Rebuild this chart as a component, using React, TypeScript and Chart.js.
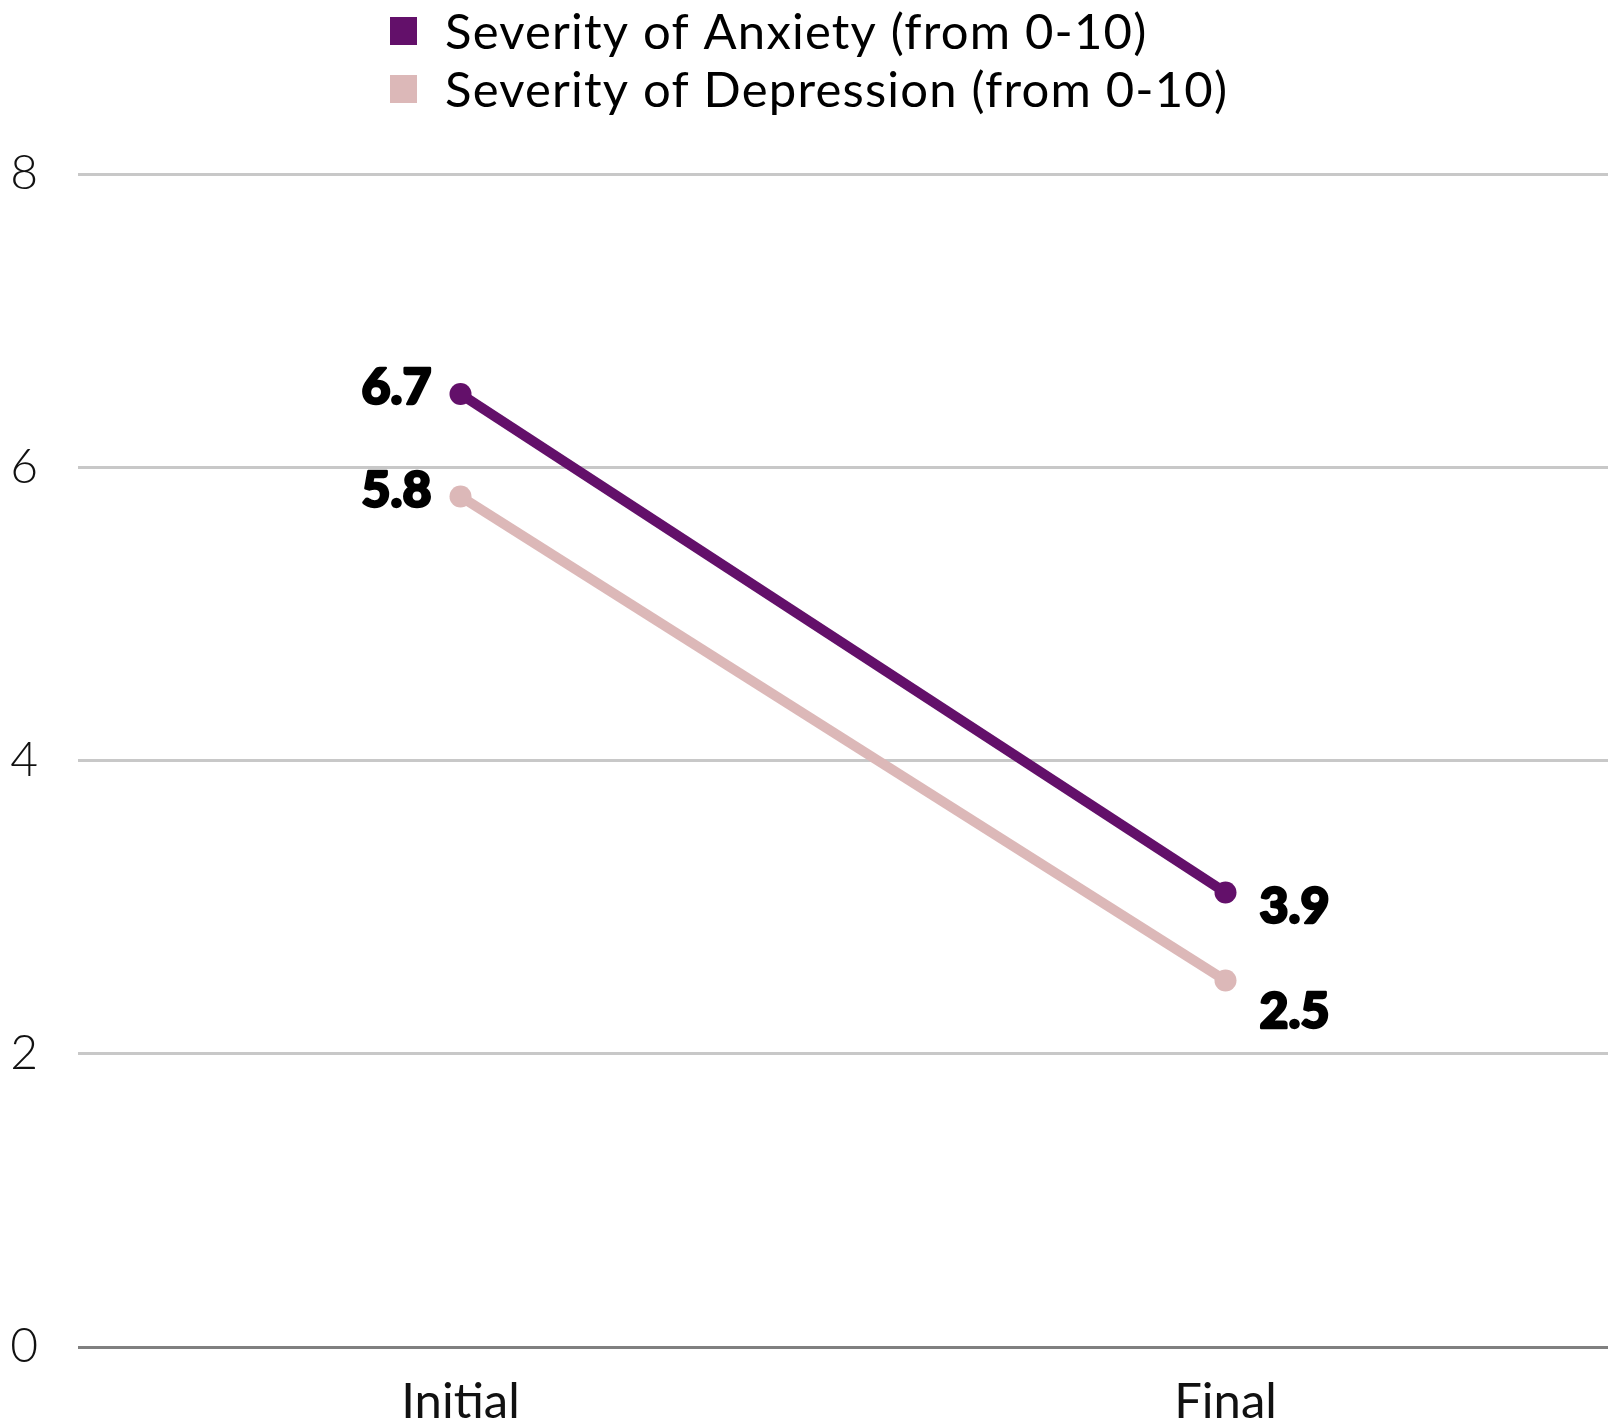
import React, { useEffect, useRef } from "react";
import { Chart, registerables } from "chart.js";

Chart.register(...registerables);

const categories = ["Initial", "Final"];
const anxietyValues = [6.5, 3.1];
const depressionValues = [5.8, 2.5];
const anxietyLabels = ["6.7", "3.9"];
const depressionLabels = ["5.8", "2.5"];
const seriesNames = ["Severity of Anxiety (from 0-10)", "Severity of Depression (from 0-10)"];
const yTicks = [0, 2, 4, 6, 8];

const ANX = "#63106a";
const DEP = "#dcb8b8";
const FONT = "Lato, 'Open Sans', sans-serif";

const legendPlugin = {
  id: "stackedLegend",
  afterDraw(chart: any) {
    const ctx = chart.ctx;
    ctx.save();
    const x0 = 390;
    const rows = [31, 89];
    chart.data.datasets.forEach((ds: any, i: number) => {
      const cy = rows[i];
      ctx.fillStyle = ds.borderColor;
      ctx.fillRect(x0, cy - 14, 27, 28);
      ctx.fillStyle = "#000";
      ctx.font = `400 49px ${FONT}`;
      (ctx as any).letterSpacing = "1.2px";
      ctx.textAlign = "left";
      ctx.textBaseline = "alphabetic";
      ctx.fillText(ds.label, 445, cy + 18);
    });
    ctx.restore();
  },
};

const valueLabelPlugin = {
  id: "valueLabels",
  afterDatasetsDraw(chart: any) {
    const ctx = chart.ctx;
    ctx.save();
    ctx.font = `900 50px ${FONT}`;
    ctx.fillStyle = "#000";
    ctx.strokeStyle = "#000";
    ctx.lineWidth = 2.5;
    ctx.lineJoin = "round";
    ctx.textBaseline = "alphabetic";
    chart.data.datasets.forEach((ds: any, di: number) => {
      const meta = chart.getDatasetMeta(di);
      meta.data.forEach((pt: any, i: number) => {
        const text = ds.valueLabels[i];
        let x: number, y: number;
        if (i === 0) {
          ctx.textAlign = "right";
          x = pt.x - 29;
          y = pt.y + 10;
        } else {
          ctx.textAlign = "left";
          x = pt.x + 34;
          y = pt.y + (di === 0 ? 31 : 48);
        }
        ctx.fillText(text, x, y);
        ctx.strokeText(text, x, y);
      });
    });
    ctx.restore();
  },
};

export default function App() {
  const ref = useRef<HTMLCanvasElement>(null);
  useEffect(() => {
    if (!ref.current) return;
    document.documentElement.style.overflow = "hidden";
    document.body.style.margin = "0";
    const chart = new Chart(ref.current, {
      type: "line",
      data: {
        labels: categories,
        datasets: [
          {
            label: seriesNames[0],
            data: anxietyValues,
            valueLabels: anxietyLabels,
            borderColor: ANX,
            backgroundColor: ANX,
            pointBackgroundColor: ANX,
            borderWidth: 10,
            pointRadius: 11,
            pointBorderWidth: 0,
            tension: 0,
          } as any,
          {
            label: seriesNames[1],
            data: depressionValues,
            valueLabels: depressionLabels,
            borderColor: DEP,
            backgroundColor: DEP,
            pointBackgroundColor: DEP,
            borderWidth: 10,
            pointRadius: 11,
            pointBorderWidth: 0,
            tension: 0,
          } as any,
        ],
      },
      options: {
        animation: false,
        responsive: true,
        maintainAspectRatio: false,
        layout: { autoPadding: false, padding: { top: 174, left: 0, right: 0, bottom: 0 } },
        plugins: {
          legend: { display: false },
          tooltip: { enabled: false },
        },
        scales: {
          x: {
            offset: true,
            grid: { display: false, drawTicks: false },
            border: { display: false },
            ticks: {
              color: "#111",
              font: { family: FONT, size: 49, weight: 400 as any },
              padding: 26,
            },
            afterFit(scale: any) {
              scale.height = 75;
            },
          },
          y: {
            min: 0,
            max: 8,
            afterBuildTicks(scale: any) {
              scale.ticks = yTicks.map((v) => ({ value: v }));
            },
            grid: {
              drawTicks: false,
              lineWidth: 3,
              color: (c: any) => (c.tick && c.tick.value === 0 ? "#808080" : "#c8c8c8"),
            },
            border: { display: false },
            ticks: {
              color: "#111",
              font: { family: FONT, size: 48, weight: 300 as any },
              padding: 40,
            },
            afterFit(scale: any) {
              scale.width = 78;
            },
          },
        },
      },
      plugins: [legendPlugin, valueLabelPlugin],
    });
    return () => chart.destroy();
  }, []);
  return (
    <div style={{ position: "fixed", left: 0, top: 0, width: 1608, height: 1422 }}>
      <canvas ref={ref} />
    </div>
  );
}
